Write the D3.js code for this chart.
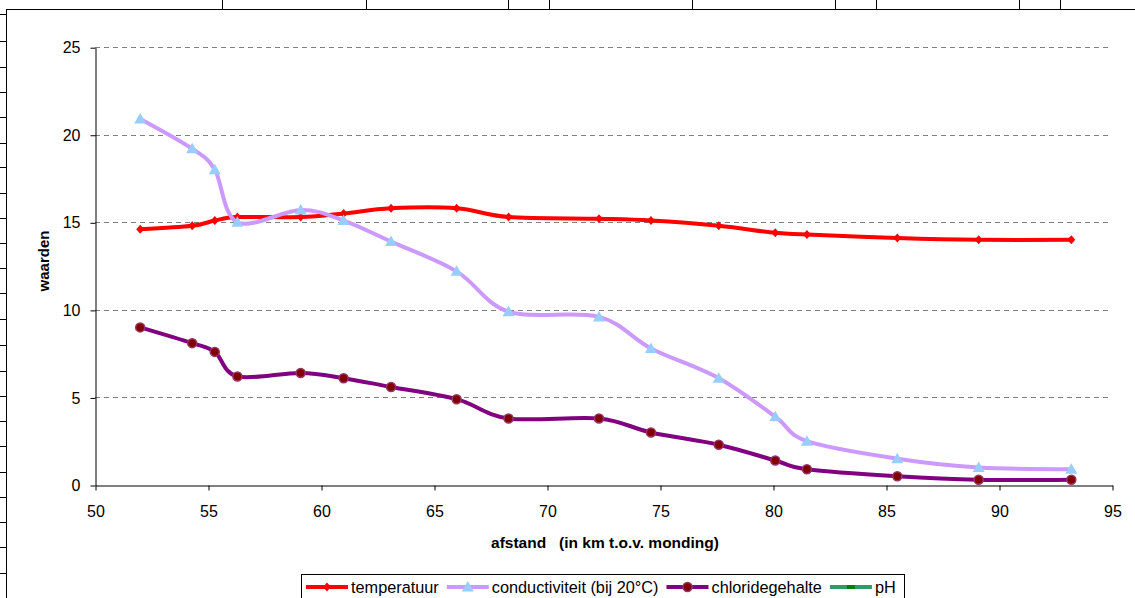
<!DOCTYPE html>
<html>
<head>
<meta charset="utf-8">
<script src="https://cdn.jsdelivr.net/npm/d3@7"></script>
<style>
  html, body { margin: 0; padding: 0; background: #fff; }
  svg { display: block; font-family: "Liberation Sans", Arial, sans-serif; }
</style>
</head>
<body>
<svg id="chart" width="1135" height="598"></svg>
<script>
// afstand (km t.o.v. monding)
const distance = [52.0, 54.3, 55.3, 56.3, 59.1, 61.0, 63.1, 66.0, 68.3, 72.3, 74.6, 77.6, 80.1, 81.5, 85.5, 89.1, 93.2];
const temperatuur = [14.6, 14.8, 15.1, 15.3, 15.3, 15.5, 15.8, 15.8, 15.3, 15.2, 15.1, 14.8, 14.4, 14.3, 14.1, 14.0, 14.0];
const conductiviteit = [20.9, 19.2, 18.0, 15.0, 15.7, 15.1, 13.9, 12.2, 9.9, 9.6, 7.8, 6.1, 3.9, 2.5, 1.5, 1.0, 0.9];
const chloridegehalte = [9.0, 8.1, 7.6, 6.2, 6.4, 6.1, 5.6, 4.9, 3.8, 3.8, 3.0, 2.3, 1.4, 0.9, 0.5, 0.3, 0.3];
const pH = []; // in legend only, no visible points

const xTicks = [50, 55, 60, 65, 70, 75, 80, 85, 90, 95];
const yTicks = [0, 5, 10, 15, 20, 25];

// spreadsheet cell borders peeking out around the chart object
const cellColumnEdges = [222, 366, 508, 549, 692, 835, 876, 1019, 1060];
const cellRowEdges = [14, 41, 67, 92, 117, 143, 167, 193, 218, 243, 268, 293, 319, 345, 371, 396, 421, 446, 472, 497, 522, 547, 573];

const series = [
  { name: "temperatuur", values: temperatuur, line: "#ff0000", marker: "diamond", fill: "#ff0000", stroke: "#ff0000" },
  { name: "conductiviteit (bij 20°C)", values: conductiviteit, line: "#cc99ff", marker: "triangle", fill: "#99ccff", stroke: "#99ccff" },
  { name: "chloridegehalte", values: chloridegehalte, line: "#800080", marker: "circle", fill: "#800000", stroke: "#993366" },
  { name: "pH", values: pH, line: "#339966", marker: "square", fill: "#008000", stroke: "#008000" }
];

const svg = d3.select("#chart");

svg.append("rect").attr("width", 1135).attr("height", 598).attr("fill", "#fff");

// cell borders
svg.selectAll(".col-edge")
  .data(cellColumnEdges)
  .join("line")
  .attr("x1", (d) => d + 0.5).attr("x2", (d) => d + 0.5)
  .attr("y1", 0).attr("y2", 9)
  .attr("stroke", "#000");

svg.selectAll(".row-edge")
  .data(cellRowEdges)
  .join("line")
  .attr("x1", 0).attr("x2", 6)
  .attr("y1", (d) => d + 0.5).attr("y2", (d) => d + 0.5)
  .attr("stroke", "#000");

// chart object frame
svg.append("rect")
  .attr("x", 6.5).attr("y", 9.5)
  .attr("width", 1200).attr("height", 700)
  .attr("fill", "#fff")
  .attr("stroke", "#000");

const x = d3.scaleLinear().domain([50, 95]).range([95, 1112]);
const y = d3.scaleLinear().domain([0, 25]).range([485, 47.2]);

// gridlines
svg.append("g")
  .selectAll("line")
  .data(yTicks.filter((d) => d > 0))
  .join("line")
  .attr("x1", x(50)).attr("x2", x(95))
  .attr("y1", (d) => Math.round(y(d)) + 0.5)
  .attr("y2", (d) => Math.round(y(d)) + 0.5)
  .attr("stroke", "#808080")
  .attr("stroke-dasharray", "5,4");

// axes
const yAxis = svg.append("g")
  .attr("transform", `translate(${x(50) + 0.5},0.5)`)
  .call(d3.axisLeft(y).tickValues(yTicks).tickSize(5).tickPadding(10).tickSizeOuter(0));

const xAxis = svg.append("g")
  .attr("transform", `translate(0.5,${y(0) + 0.5})`)
  .call(d3.axisBottom(x).tickValues(xTicks).tickSize(5).tickPadding(15).tickSizeOuter(0));

[yAxis, xAxis].forEach((g) => {
  g.select(".domain").attr("stroke", "#000");
  g.selectAll(".tick line").attr("stroke", "#000");
  g.selectAll(".tick text")
    .attr("fill", "#000")
    .style("font-size", "16px")
    .style("font-family", "'Liberation Sans', Arial, sans-serif");
});

// axis titles
svg.append("text")
  .attr("x", 605).attr("y", 548)
  .attr("text-anchor", "middle")
  .style("font-size", "15.5px")
  .style("font-weight", "bold")
  .style("white-space", "pre")
  .text("afstand   (in km t.o.v. monding)");

svg.append("text")
  .attr("transform", "translate(49,261) rotate(-90)")
  .attr("text-anchor", "middle")
  .style("font-size", "15px")
  .style("font-weight", "bold")
  .text("waarden");

// Excel-like smoothed lines
const line = d3.line()
  .x((d) => x(d[0]))
  .y((d) => y(d[1]))
  .curve(d3.curveCardinal.tension(0));

function drawMarker(sel, s) {
  if (s.marker === "circle") {
    sel.append("circle").attr("r", 4.5)
      .attr("fill", s.fill).attr("stroke", s.stroke).attr("stroke-width", 1.5);
  } else if (s.marker === "triangle") {
    sel.append("path").attr("d", "M0,-6L6,4.5L-6,4.5Z").attr("fill", s.fill);
  } else if (s.marker === "diamond") {
    sel.append("path").attr("d", "M0,-4.5L4,0L0,4.5L-4,0Z").attr("fill", s.fill);
  } else {
    sel.append("rect").attr("x", -4).attr("y", -2).attr("width", 8).attr("height", 4).attr("fill", s.fill);
  }
}

series.forEach((s) => {
  const pts = s.values.map((v, i) => [distance[i], v]);
  if (!pts.length) return;
  svg.append("path")
    .datum(pts)
    .attr("d", line)
    .attr("fill", "none")
    .attr("stroke", s.line)
    .attr("stroke-width", 4)
    .attr("stroke-linejoin", "round");

  svg.append("g")
    .selectAll("g")
    .data(pts)
    .join("g")
    .attr("transform", (d) => `translate(${x(d[0])},${y(d[1])})`)
    .each(function () { drawMarker(d3.select(this), s); });
});

// legend
const legend = svg.append("g");
legend.append("rect")
  .attr("x", 301.5).attr("y", 574.5)
  .attr("width", 603).attr("height", 60)
  .attr("fill", "#fff")
  .attr("stroke", "#000");

let lx = 306;
const ly = 587;
series.forEach((s) => {
  legend.append("line")
    .attr("x1", lx).attr("x2", lx + 42)
    .attr("y1", ly).attr("y2", ly)
    .attr("stroke", s.line).attr("stroke-width", 4);
  const m = legend.append("g").attr("transform", `translate(${lx + 21},${ly})`);
  drawMarker(m, s);
  const t = legend.append("text")
    .attr("x", lx + 45).attr("y", ly)
    .attr("dy", "0.35em")
    .style("font-size", "16.3px")
    .text(s.name);
  lx += 45 + t.node().getComputedTextLength() + 8;
});
</script>
</body>
</html>
